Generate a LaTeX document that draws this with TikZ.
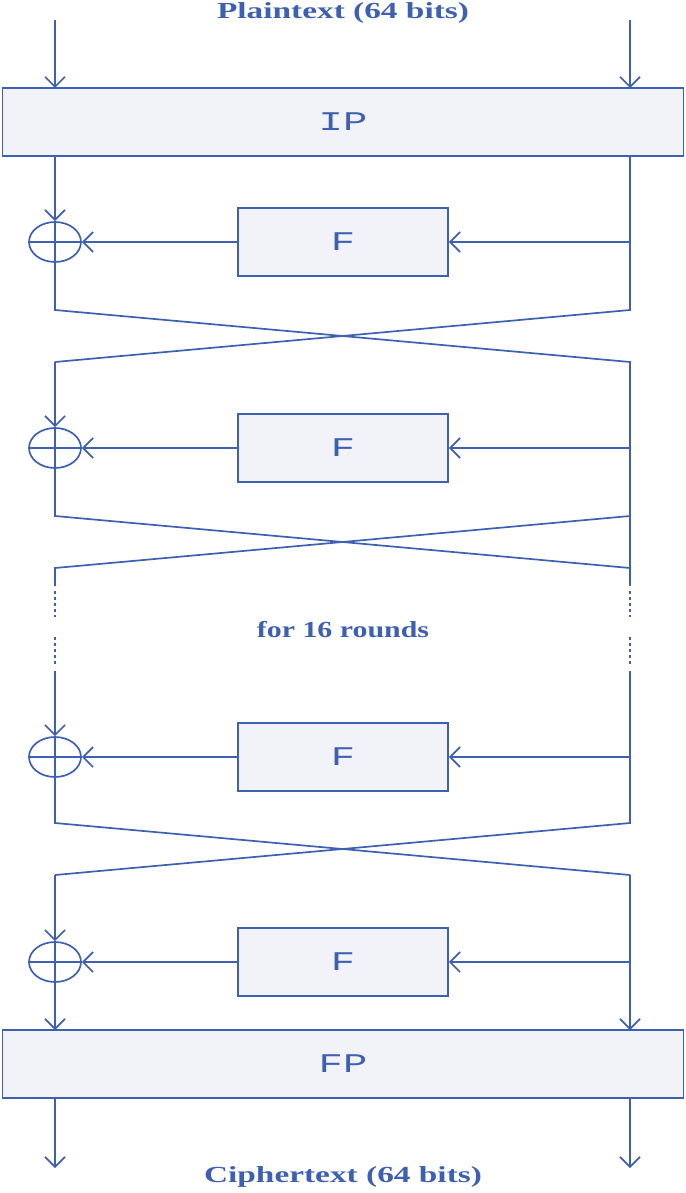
\documentclass[tikz,border=0pt]{standalone}
\usepackage{fontspec}
\setmainfont{Liberation Serif}
\newfontfamily\monof{Liberation Mono}
\usetikzlibrary{arrows.meta,shapes.geometric}
\definecolor{ln}{RGB}{62,96,178}
\definecolor{bx}{RGB}{242,243,248}
\newcommand{\stretchtxt}[2]{\scalebox{#1}[1]{#2}}
\tikzset{
 wire/.style={draw=ln,line width=1.7pt},
 arr/.style={wire,-{Straight Barb[length=10pt,width=20pt,line width=1.7pt]}},
 big/.style={draw=ln,line width=1.7pt,fill=bx,minimum width=681pt,minimum height=68pt,inner sep=0pt,text=ln,font=\monof\fontsize{27}{27}\selectfont},
 fbox/.style={draw=ln,line width=1.7pt,fill=bx,minimum width=210pt,minimum height=68pt,inner sep=0pt,text=ln,font=\monof\fontsize{27}{27}\selectfont},
 xr/.style={draw=ln,line width=1.7pt,ellipse,minimum width=52pt,minimum height=40pt,inner sep=0pt},
 lab/.style={text=ln,font=\bfseries\fontsize{23}{23}\selectfont}
}
\begin{document}
\begin{tikzpicture}[x=1pt,y=-1pt]
\useasboundingbox (0,0) rectangle (685,1193);
\node[lab] (pt) at (343,13) {\stretchtxt{1.45}{Plaintext (64 bits)}};
\node[lab] (ct) at (343,1177) {\stretchtxt{1.45}{Ciphertext (64 bits)}};
\node[big] (ip) at (343,122) {\stretchtxt{1.5}{IP}};
\node[big] (fp) at (343,1064) {\stretchtxt{1.5}{FP}};
\coordinate (tl) at (55,20); \coordinate (tr) at (630,20);
\draw[arr] (tl) -- (55,88);
\draw[arr] (tr) -- (630,88);
\foreach \y/\n in {242/1,448/2,757/3,962/4}{
  \node[fbox] (f\n) at (343,\y) {\stretchtxt{1.5}{F}};
  \node[xr] (x\n) at (55,\y) {};
  \draw[wire] (x\n.north) -- (x\n.south) (x\n.west) -- (x\n.east);
  \draw[arr] (630,\y) -- (f\n.east);
  \draw[arr] (f\n.west) -- (x\n.east);
}
\draw[arr] (55,156) -- (x1.north);
\draw[wire] (x1.south) -- (55,310) -- (630,362) -- (630,568) -- (55,516) -- (x2.south);
\draw[wire] (630,156) -- (630,310) -- (55,362);
\draw[arr] (55,362) -- (x2.north);
\draw[wire] (630,516) -- (55,568) -- (55,586);
\draw[wire,line width=2pt,dash pattern=on 2.5pt off 3.5pt] (55,591) -- (55,617) (55,637) -- (55,667) (630,591) -- (630,617) (630,637) -- (630,667);
\draw[wire] (630,568) -- (630,586);
\node[lab] (for) at (343,630) {\stretchtxt{1.3}{for 16 rounds}};
\draw[arr] (55,671) -- (x3.north);
\draw[wire] (630,671) -- (630,823) -- (55,875);
\draw[wire] (x3.south) -- (55,823) -- (630,875);
\draw[arr] (55,875) -- (x4.north);
\draw[arr] (x4.south) -- (55,1030);
\draw[arr] (630,875) -- (630,1030);
\draw[arr] (55,1098) -- (55,1168);
\draw[arr] (630,1098) -- (630,1168);
\end{tikzpicture}
\end{document}
